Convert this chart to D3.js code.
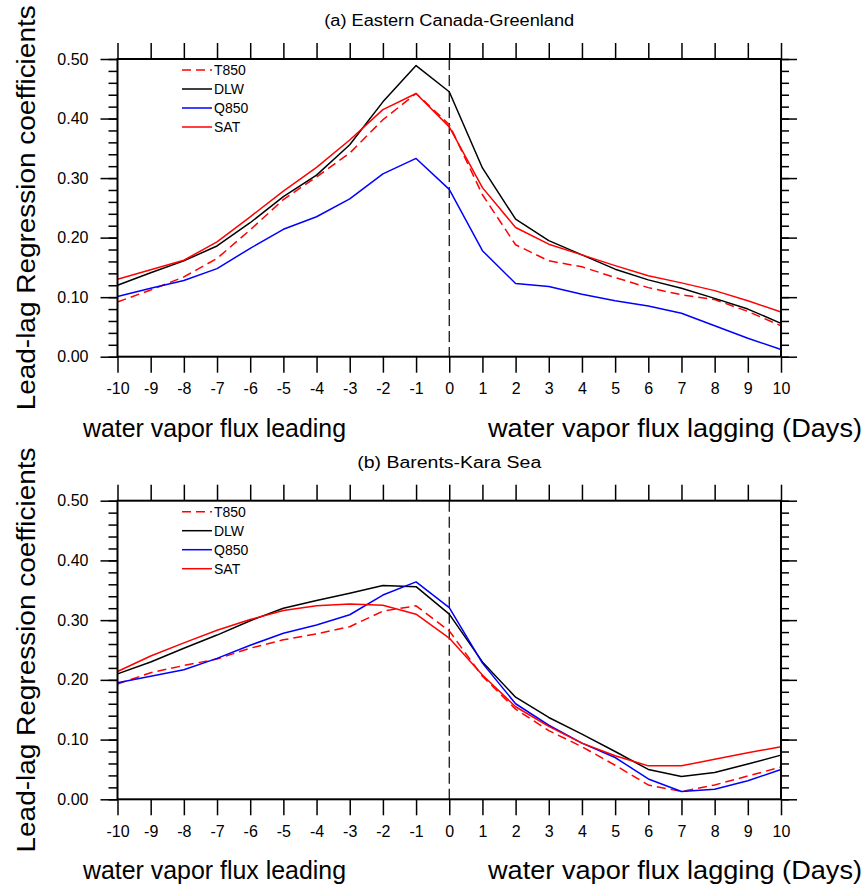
<!DOCTYPE html>
<html><head><meta charset="utf-8">
<script src="https://cdn.jsdelivr.net/npm/d3@7"></script>
<style>
html,body{margin:0;padding:0;background:#fff;}
svg{display:block;font-family:"Liberation Sans",Arial,Helvetica,sans-serif;}
</style></head>
<body>
<svg id="chart" width="866" height="885"></svg>
<script>
// ---------- data ----------
const lags = [-10,-9,-8,-7,-6,-5,-4,-3,-2,-1,0,1,2,3,4,5,6,7,8,9,10];
const lagLabels = ["-10","-9","-8","-7","-6","-5","-4","-3","-2","-1","0","1","2","3","4","5","6","7","8","9","10"];
const yTicks = [0,0.1,0.2,0.3,0.4,0.5];
const yTickLabels = ["0.00","0.10","0.20","0.30","0.40","0.50"];
const seriesNames = ["T850","DLW","Q850","SAT"];
const seriesColors = ["#ff0000","#000000","#0000ff","#ff0000"];
const seriesDashed = [true,false,false,false];

// (a) Eastern Canada-Greenland
const aT850 = [0.092,0.112,0.134,0.165,0.213,0.264,0.302,0.342,0.398,0.442,0.390,0.272,0.188,0.161,0.151,0.133,0.116,0.104,0.096,0.076,0.052];
const aDLW  = [0.120,0.141,0.161,0.186,0.225,0.269,0.305,0.356,0.428,0.489,0.445,0.317,0.231,0.195,0.171,0.147,0.129,0.115,0.098,0.080,0.056];
const aQ850 = [0.101,0.115,0.128,0.148,0.182,0.214,0.235,0.265,0.307,0.333,0.281,0.178,0.123,0.118,0.105,0.094,0.085,0.073,0.052,0.031,0.012];
const aSAT  = [0.130,0.146,0.162,0.193,0.235,0.278,0.318,0.364,0.415,0.442,0.386,0.284,0.217,0.189,0.171,0.153,0.136,0.124,0.111,0.094,0.075];

// (b) Barents-Kara Sea
const bT850 = [0.193,0.212,0.224,0.235,0.253,0.267,0.277,0.289,0.315,0.324,0.282,0.206,0.151,0.115,0.088,0.057,0.024,0.013,0.024,0.039,0.054];
const bDLW  = [0.210,0.230,0.253,0.275,0.299,0.320,0.333,0.345,0.358,0.356,0.310,0.230,0.171,0.137,0.109,0.080,0.050,0.038,0.045,0.059,0.074];
const bQ850 = [0.195,0.206,0.217,0.236,0.258,0.278,0.292,0.309,0.342,0.364,0.321,0.228,0.160,0.124,0.094,0.070,0.034,0.013,0.017,0.031,0.050];
const bSAT  = [0.214,0.240,0.262,0.283,0.301,0.316,0.324,0.327,0.325,0.310,0.270,0.208,0.155,0.122,0.094,0.073,0.056,0.056,0.067,0.078,0.088];

const panels = [
  {title:"(a) Eastern Canada-Greenland", titleW:250, series:[aT850,aDLW,aQ850,aSAT], top:59, bottom:356.7},
  {title:"(b) Barents-Kara Sea", titleW:184, series:[bT850,bDLW,bQ850,bSAT], top:500.7, bottom:799.3}
];

// ---------- drawing ----------
const svg = d3.select("#chart");
const x = d3.scaleLinear().domain([-10,10]).range([117.5,781]);
const minorTicks = d3.range(0,0.5001,0.02);

panels.forEach(p => {
  const y = d3.scaleLinear().domain([0,0.5]).range([p.bottom,p.top]);
  const g = svg.append("g");
  const cx = (x.range()[0]+x.range()[1])/2;

  // title
  g.append("text").attr("x",cx).attr("y",p.top-33).attr("text-anchor","middle")
    .attr("font-size",16).attr("textLength",p.titleW).attr("lengthAdjust","spacingAndGlyphs")
    .text(p.title);

  // y axis title
  g.append("text").attr("transform",`translate(35,${(p.top+p.bottom)/2}) rotate(-90)`)
    .attr("text-anchor","middle").attr("font-size",26)
    .attr("textLength",405).attr("lengthAdjust","spacingAndGlyphs")
    .text("Lead-lag Regression coefficients");

  // axes using d3 axes
  const tickStroke = "#000";
  const bottomAxis = d3.axisBottom(x).tickValues(lags).tickSize(16).tickFormat((d,i)=>lagLabels[i]).tickPadding(10);
  const topAxis = d3.axisTop(x).tickValues(lags).tickSize(16).tickFormat("");
  const leftMajor = d3.axisLeft(y).tickValues(yTicks).tickSize(17).tickFormat((d,i)=>yTickLabels[i]).tickPadding(12);
  const leftMinor = d3.axisLeft(y).tickValues(minorTicks).tickSize(9).tickFormat("");
  const rightMajor = d3.axisRight(y).tickValues(yTicks).tickSize(16).tickFormat("");
  const rightMinor = d3.axisRight(y).tickValues(minorTicks).tickSize(8).tickFormat("");

  const ax = [
    [bottomAxis, `translate(0,${p.bottom})`],
    [topAxis, `translate(0,${p.top})`],
    [leftMinor, `translate(${x.range()[0]},0)`],
    [leftMajor, `translate(${x.range()[0]},0)`],
    [rightMinor, `translate(${x.range()[1]},0)`],
    [rightMajor, `translate(${x.range()[1]},0)`]
  ];
  ax.forEach(([a,t]) => {
    const ag = g.append("g").attr("transform",t).call(a);
    ag.select(".domain").remove();
    ag.selectAll(".tick line").attr("stroke",tickStroke).attr("stroke-width",1.5);
    ag.selectAll(".tick text").attr("font-size",16).attr("fill","#000")
      .attr("font-family","'Liberation Sans',Arial,sans-serif");
  });

  // x axis titles
  g.append("text").attr("x",83).attr("y",p.bottom+80).attr("font-size",26)
    .attr("textLength",263).attr("lengthAdjust","spacingAndGlyphs")
    .text("water vapor flux leading");
  g.append("text").attr("x",862).attr("y",p.bottom+80).attr("font-size",26).attr("text-anchor","end")
    .attr("textLength",374).attr("lengthAdjust","spacingAndGlyphs")
    .text("water vapor flux lagging (Days)");

  // zero-lag dashed line
  g.append("line").attr("x1",x(0)).attr("x2",x(0)).attr("y1",p.top).attr("y2",p.bottom)
    .attr("stroke","#000").attr("stroke-width",1.2).attr("stroke-dasharray","11,5");

  // series lines
  const line = d3.line().x((d,i)=>x(lags[i])).y(d=>y(d));
  p.series.forEach((s,k) => {
    g.append("path").datum(s).attr("d",line).attr("fill","none")
      .attr("stroke",seriesColors[k]).attr("stroke-width",1.5)
      .attr("stroke-linejoin","round")
      .attr("stroke-dasharray",seriesDashed[k] ? "9,5" : null);
  });

  // frame
  g.append("rect").attr("x",x.range()[0]).attr("y",p.top)
    .attr("width",x.range()[1]-x.range()[0]).attr("height",p.bottom-p.top)
    .attr("fill","none").attr("stroke","#000").attr("stroke-width",2);

  // legend
  seriesNames.forEach((n,k) => {
    const ly = p.top + 11 + k*19;
    g.append("line").attr("x1",182).attr("x2",212).attr("y1",ly).attr("y2",ly)
      .attr("stroke",seriesColors[k]).attr("stroke-width",1.5)
      .attr("stroke-dasharray",seriesDashed[k] ? "9,5" : null);
    g.append("text").attr("x",214).attr("y",ly+5).attr("font-size",14).text(n);
  });
});
</script>
</body></html>
